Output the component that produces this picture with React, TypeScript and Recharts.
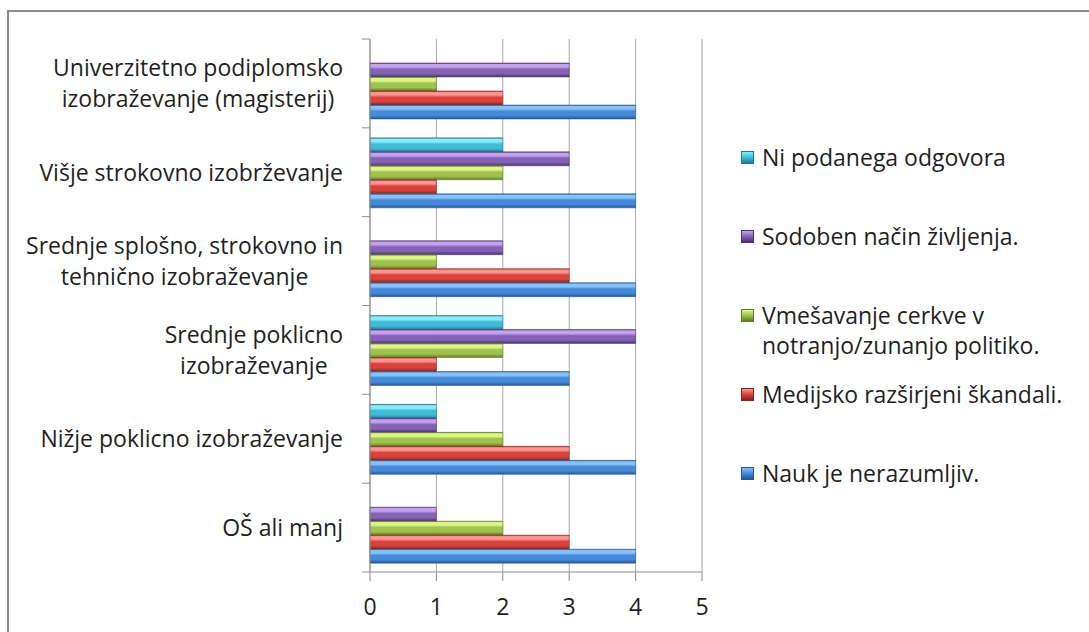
import React from "react";
import { BarChart, Bar, XAxis, YAxis, CartesianGrid, Legend } from "recharts";

// kategorije (od zgoraj navzdol), \n = prelom vrstice v oznaki
const categories = [
  "Univerzitetno podiplomsko\nizobraževanje (magisterij)",
  "Višje strokovno izobrževanje",
  "Srednje splošno, strokovno in\ntehnično izobraževanje",
  "Srednje poklicno\nizobraževanje",
  "Nižje poklicno izobraževanje",
  "OŠ ali manj",
];

const niPodanega = [0, 2, 0, 2, 1, 0];
const sodobenNacin = [3, 3, 2, 4, 1, 1];
const vmesavanje = [1, 2, 1, 2, 2, 2];
const medijsko = [2, 1, 3, 1, 3, 3];
const nauk = [4, 4, 4, 3, 4, 4];

const xTicks = [0, 1, 2, 3, 4, 5];

const series = [
  { key: "ni", name: "Ni podanega odgovora", values: niPodanega, light: "#8cecfb", base: "#3fbcd6", dark: "#1f7a91" },
  { key: "sodoben", name: "Sodoben način življenja.", values: sodobenNacin, light: "#c4a2ee", base: "#8462b4", dark: "#4a326e" },
  { key: "vmes", name: "Vmešavanje cerkve v notranjo/zunanjo politiko.", values: vmesavanje, light: "#dff58a", base: "#9fc24f", dark: "#5d7d25" },
  { key: "medij", name: "Medijsko razširjeni škandali.", values: medijsko, light: "#ff958e", base: "#d8433d", dark: "#88221f" },
  { key: "nauk", name: "Nauk je nerazumljiv.", values: nauk, light: "#88c2f6", base: "#4589d9", dark: "#255794" },
];

const data = categories.map((c, i) => {
  const row: Record<string, string | number> = { cat: c };
  series.forEach((s) => (row[s.key] = s.values[i]));
  return row;
});

const FONT = '"Open Sans", "DejaVu Sans", sans-serif';
const LABEL_SIZE = 23;

let ctx: CanvasRenderingContext2D | null = null;
function textWidth(t: string, size: number) {
  if (!ctx) ctx = document.createElement("canvas").getContext("2d");
  if (!ctx) return t.length * size * 0.5;
  ctx.font = `${size}px "Open Sans"`;
  return ctx.measureText(t).width;
}

function CategoryTick(props: any) {
  const { x, y, payload, index } = props;
  const lines = String(payload.value).split("\n");
  const maxW = Math.max(...lines.map((l) => textWidth(l, LABEL_SIZE)));
  const cx = x - maxW / 2;
  const lh = 31;
  const half = payload.offset || 533 / categories.length / 2;
  const axisX = x + 27;
  return (
    <g>
      <line x1={axisX - 8} x2={axisX} y1={y - half} y2={y - half} stroke="#8c8c8c" />
      {index === categories.length - 1 && (
        <line x1={axisX - 8} x2={axisX} y1={y + half} y2={y + half} stroke="#8c8c8c" />
      )}
      <text textAnchor="middle" fontFamily={FONT} fontSize={LABEL_SIZE} fill="#1f1f1f">
        {lines.map((l, i) => (
          <tspan key={i} x={cx} y={y + (i - (lines.length - 1) / 2) * lh} dy="0.36em">
            {l}
          </tspan>
        ))}
      </text>
    </g>
  );
}

function renderLegend() {
  return (
    <div style={{ position: "absolute", left: 0, top: 0, width: 1089, height: 632, pointerEvents: "none" }}>
      {series.map((s, i) => (
        <div
          key={s.key}
          style={{
            position: "absolute",
            left: 741,
            top: 142 + i * 79,
            width: 345,
            display: "flex",
            alignItems: "flex-start",
            fontFamily: FONT,
            fontSize: LABEL_SIZE,
            lineHeight: "30px",
            color: "#1f1f1f",
            whiteSpace: "normal",
          }}
        >
          <span
            style={{
              display: "inline-block",
              width: 13,
              height: 13,
              marginTop: 9,
              marginRight: 8,
              flex: "none",
              background: `linear-gradient(to bottom, ${s.light}, ${s.base} 50%, ${s.dark})`,
              border: `1px solid ${s.dark}`,
              boxSizing: "border-box",
            }}
          />
          <span>{s.name}</span>
        </div>
      ))}
    </div>
  );
}

export default function App() {
  return (
    <div style={{ position: "absolute", left: 0, top: 0, width: 1089, height: 632, overflow: "hidden", background: "#fff" }}>
      <div
        style={{
          position: "absolute",
          left: 7,
          top: 10,
          width: 1200,
          height: 800,
          borderLeft: "2px solid #8a8a8a",
          borderTop: "2px solid #8a8a8a",
        }}
      />
      <div style={{ position: "absolute", left: 0, top: 0 }}>
        <BarChart
          width={1089}
          height={632}
          data={data}
          layout="vertical"
          margin={{ top: 39, right: 387, bottom: 20, left: 0 }}
          barCategoryGap={10}
          barGap={0}
        >
          <defs>
            {series.map((s) => (
              <linearGradient key={s.key} id={`g-${s.key}`} x1="0" y1="0" x2="0" y2="1">
                <stop offset="0" stopColor={s.dark} />
                <stop offset="0.1" stopColor={s.light} />
                <stop offset="0.28" stopColor={s.light} />
                <stop offset="0.45" stopColor={s.base} />
                <stop offset="0.75" stopColor={s.base} />
                <stop offset="1" stopColor={s.dark} />
              </linearGradient>
            ))}
          </defs>
          <CartesianGrid horizontal={false} stroke="#a8a8a8" />
          <XAxis
            type="number"
            domain={[0, 5]}
            ticks={xTicks}
            interval={0}
            height={40}
            axisLine={{ stroke: "#8c8c8c" }}
            tickLine={{ stroke: "#8c8c8c" }}
            tickSize={9}
            tickMargin={18}
            tick={{ fill: "#1f1f1f", fontSize: 23, fontFamily: FONT }}
          />
          <YAxis
            type="category"
            dataKey="cat"
            width={370}
            axisLine={{ stroke: "#8c8c8c" }}
            tickLine={false}
            tickSize={8}
            tickMargin={19}
            interval={0}
            tick={<CategoryTick />}
          />
          <Legend layout="horizontal" verticalAlign="middle" align="center" wrapperStyle={{ left: 0, top: 0, width: 1089, height: 632 }} content={renderLegend} />
          {series.map((s) => (
            <Bar
              key={s.key}
              dataKey={s.key}
              name={s.name}
              fill={`url(#g-${s.key})`}
              stroke={s.dark}
              strokeWidth={0.5}
              isAnimationActive={false}
            />
          ))}
        </BarChart>
      </div>
    </div>
  );
}
